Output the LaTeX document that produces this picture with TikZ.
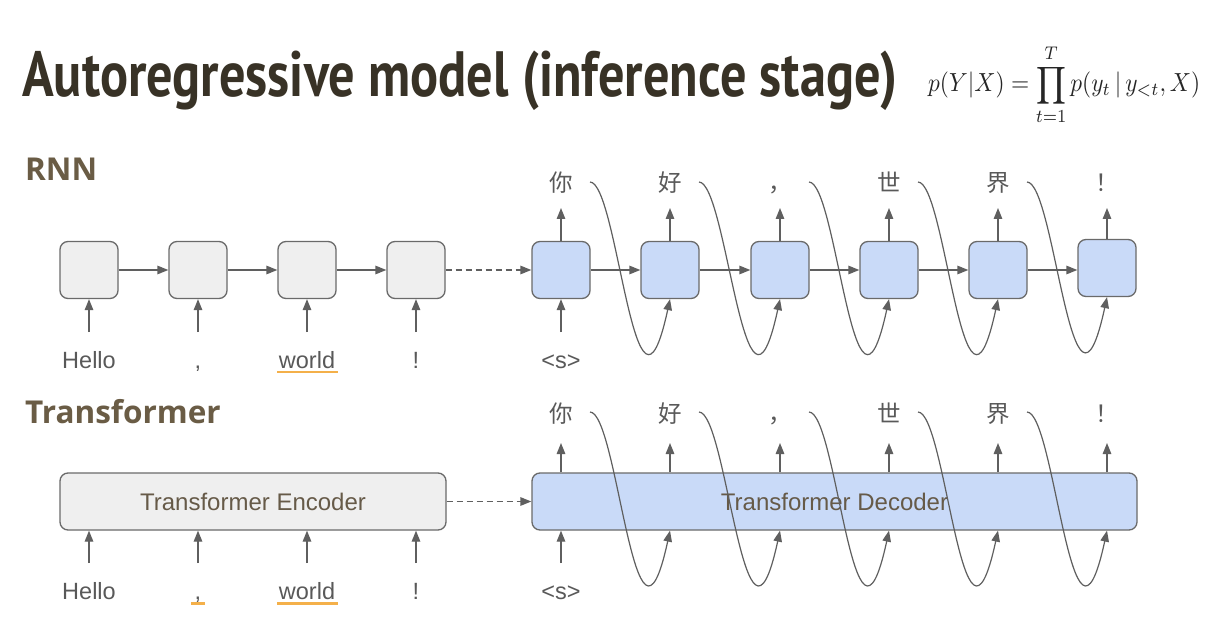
\documentclass[tikz,border=0pt]{standalone}
\usepackage{fontspec}
\setmainfont{Liberation Sans}
\newfontfamily\titlefont{PT Sans}
\newfontfamily\headfont{Open Sans}
\newfontfamily\cjk{Noto Sans CJK SC}
\usetikzlibrary{arrows.meta}
\definecolor{boxc}{HTML}{6A6A6A}
\definecolor{linec}{HTML}{5F5F5F}
\definecolor{encfill}{HTML}{EFEFEF}
\definecolor{decfill}{HTML}{C9DAF8}
\definecolor{labc}{HTML}{595959}
\definecolor{headc}{HTML}{6A5C45}
\definecolor{titlec}{HTML}{383226}
\definecolor{innertext}{HTML}{665A48}
\definecolor{ulc}{HTML}{F4B04A}
\newsavebox\titlebox
\begin{document}
\begin{tikzpicture}[x=1pt,y=-1pt,
  arr/.style={draw=linec, line width=1.3pt, -{Triangle[length=11pt,width=8.5pt]}},
  dasharr/.style={arr, dash pattern=on 6pt off 4pt},
  curve/.style={arr, line width=1.2pt},
  cell/.style={draw=boxc, line width=1.3pt, rounded corners=8pt, minimum width=58pt, minimum height=57pt, inner sep=0pt},
  enccell/.style={cell, fill=encfill},
  deccell/.style={cell, fill=decfill},
  lab/.style={font=\fontsize{23.5}{26}\selectfont, text=labc, inner sep=0pt, anchor=base},
  zh/.style={font=\cjk\fontsize{23.5}{26}\selectfont, text=labc, inner sep=0pt, anchor=base},
  head/.style={font=\headfont\bfseries\fontsize{31.5}{34}\selectfont, text=headc, anchor=base west, inner sep=0pt},
  uline/.style={draw=ulc, line width=2.5pt},
  bigbox/.style={draw=boxc, line width=1.3pt, rounded corners=8pt, minimum height=57pt, inner sep=0pt, text=innertext, font=\fontsize{24}{28}\selectfont}
]
\useasboundingbox (0,0) rectangle (1210,620);
\fill[white] (0,0) rectangle (1210,620);

% title and formula
\node[anchor=base west, inner sep=0pt, text=titlec] (title) at (22,97) {\sbox\titlebox{\titlefont\bfseries\fontsize{64}{70}\selectfont Autoregressive model (inference stage)}\resizebox{875pt}{\ht\titlebox}{\usebox\titlebox}};
\node[anchor=base west, inner sep=0pt, text=black!85] (formula) at (928,92) {\scalebox{1}[1.12]{\resizebox{272pt}{!}{$\displaystyle p(Y|X)=\prod_{t=1}^{T}p(y_t\,|\,y_{<t},X)$}}};

% headings
\node[head] (hrnn) at (25,181) {RNN};
\node[head] (htr) at (25,423) {Transformer};

% helper coordinates
\coordinate (rtop) at (0,208);
\coordinate (rbot) at (0,332);
\coordinate (ttop) at (0,443);
\coordinate (tbot) at (0,563);

% ---------------- RNN ----------------
\node[enccell] (e1) at (89,270) {};
\node[enccell] (e2) at (198,270) {};
\node[enccell] (e3) at (307,270) {};
\node[enccell] (e4) at (416,270) {};
\node[deccell] (d1) at (561,270) {};
\node[deccell] (d2) at (670,270) {};
\node[deccell] (d3) at (780,270) {};
\node[deccell] (d4) at (889,270) {};
\node[deccell] (d5) at (998,270) {};
\node[deccell] (d6) at (1107,268) {};

\draw[arr] (e1) -- (e2);
\draw[arr] (e2) -- (e3);
\draw[arr] (e3) -- (e4);
\draw[dasharr] (e4) -- (d1);
\draw[arr] (d1) -- (d2);
\draw[arr] (d2) -- (d3);
\draw[arr] (d3) -- (d4);
\draw[arr] (d4) -- (d5);
\draw[arr] (d5.east) -- (d6.west |- d5.east);

% source labels
\node[lab] (s1) at (89,368) {Hello};
\node[lab] (s2) at (198,368) {,};
\node[lab] (s3) at (307,368) {world};
\node[lab] (s4) at (416,368) {!};
\node[lab] (s0) at (561,368) {<s>};
\draw[uline] (277,372) -- (338,372);

\foreach \i in {1,...,4} {\draw[arr] (e\i.south |- rbot) -- (e\i.south);}
\draw[arr] (d1.south |- rbot) -- (d1.south);

% outputs
\node[zh] (o1) at (561,192) {你};
\node[zh] (o2) at (670,192) {好};
\node[zh] (o3) at (780,192) {，};
\node[zh] (o4) at (889,192) {世};
\node[zh] (o5) at (998,192) {界};
\node[zh] (o6) at (1107,192) {！};
\foreach \i in {1,...,6} {\draw[arr] (d\i.north) -- (d\i.north |- rtop);}

% feedback curves
\foreach \i/\j in {1/2,2/3,3/4,4/5,5/6} {
  \draw[curve] ([shift={(29,-10)}]o\i.base) .. controls +(28,0) and +(-35,162) .. (d\j.south);
}

% ---------------- Transformer ----------------
\node[bigbox, fill=encfill, minimum width=386pt] (enc) at (253,501.5) {Transformer Encoder};
\node[bigbox, fill=decfill, minimum width=605pt] (dec) at (834.5,501.5) {Transformer Decoder};
\draw[dasharr] (enc) -- (dec);

\node[lab] (ts1) at (89,599) {Hello};
\node[lab] (ts2) at (198,599) {,};
\node[lab] (ts3) at (307,599) {world};
\node[lab] (ts4) at (416,599) {!};
\node[lab] (ts0) at (561,599) {<s>};
\draw[uline] (191,603.5) -- (205,603.5);
\draw[uline] (277,603.5) -- (338,603.5);

\foreach \i in {1,...,4} {\draw[arr] (ts\i |- tbot) -- (ts\i |- enc.south);}
\draw[arr] (ts0 |- tbot) -- (ts0 |- dec.south);

\node[zh] (to1) at (561,422) {你};
\node[zh] (to2) at (670,422) {好};
\node[zh] (to3) at (780,422) {，};
\node[zh] (to4) at (889,422) {世};
\node[zh] (to5) at (998,422) {界};
\node[zh] (to6) at (1107,422) {！};
\foreach \i in {1,...,6} {\draw[arr] (to\i |- dec.north) -- (to\i |- ttop);}

\foreach \i/\j in {1/2,2/3,3/4,4/5,5/6} {
  \draw[curve] ([shift={(29,-10)}]to\i.base) .. controls +(28,0) and +(-35,162) .. (to\j |- dec.south);
}
\end{tikzpicture}
\end{document}
